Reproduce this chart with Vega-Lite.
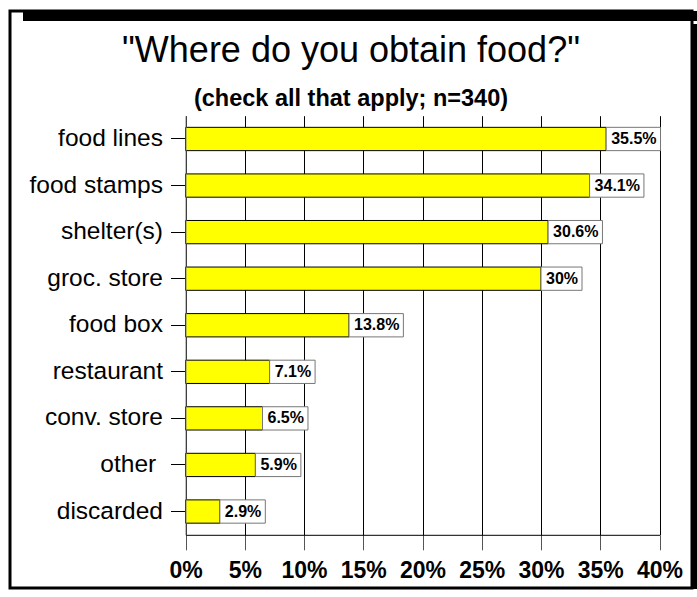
{
  "$schema": "https://vega.github.io/schema/vega-lite/v6.json",
  "padding": {"left": 8, "top": 9, "right": 0, "bottom": 0},
  "background": "white",
  "config": {"view": {"stroke": null}, "font": "Liberation Sans"},
  "datasets": {
    "food": [
      {"place": "food lines", "share": 0.355},
      {"place": "food stamps", "share": 0.341},
      {"place": "shelter(s)", "share": 0.306},
      {"place": "groc. store", "share": 0.30},
      {"place": "food box", "share": 0.138},
      {"place": "restaurant", "share": 0.071},
      {"place": "conv. store", "share": 0.065},
      {"place": "other \u200b", "share": 0.059},
      {"place": "discarded", "share": 0.029}
    ],
    "none": []
  },
  "spacing": 0,
  "bounds": "flush",
  "vconcat": [
    {
      "spacing": 0,
      "bounds": "flush",
      "hconcat": [
        {
          "width": 682,
          "height": 577,
          "view": {"stroke": "black", "strokeWidth": 3, "fill": "white"},
          "title": {
            "text": "\"Where do you obtain food?\"",
            "subtitle": "(check all that apply; n=340)",
            "anchor": "middle",
            "frame": "group",
            "offset": -100,
            "font": "Liberation Sans",
            "fontSize": 36,
            "fontWeight": "normal",
            "color": "black",
            "subtitleFont": "Liberation Sans",
            "subtitleFontSize": 23.5,
            "subtitleFontWeight": "bold",
            "subtitleColor": "black",
            "subtitlePadding": 17
          },
          "data": {"name": "food"},
          "resolve": {"axis": {"x": "independent"}},
          "encoding": {
            "y": {
              "field": "place",
              "type": "nominal",
              "sort": null,
              "scale": {"range": [104.7, 523.8], "paddingInner": 0.5, "paddingOuter": 0.25},
              "axis": {
                "orient": "left",
                "offset": -175.5,
                "title": null,
                "domainColor": "#808080",
                "domainWidth": 1,
                "ticks": true,
                "tickColor": "black",
                "tickSize": 15,
                "labelFont": "Liberation Sans",
                "labelFontSize": 24.5,
                "labelFontWeight": "normal",
                "labelColor": "black",
                "labelPadding": 8,
                "labelLimit": 400,
                "grid": false,
                "zindex": 1
              }
            }
          },
          "layer": [
            {
              "mark": {"type": "bar", "fill": "#FFFF00", "stroke": "black", "strokeWidth": 1},
              "encoding": {
                "x": {
                  "field": "share",
                  "type": "quantitative",
                  "scale": {"domain": [0, 0.4], "range": [175.5, 649.5], "nice": false, "zero": true},
                  "axis": {
                    "orient": "top",
                    "title": null,
                    "values": [0, 0.05, 0.1, 0.15, 0.2, 0.25, 0.3, 0.35, 0.4],
                    "grid": true,
                    "gridColor": "black",
                    "gridOpacity": 1,
                    "gridWidth": 1,
                    "domain": false,
                    "ticks": false,
                    "labels": false,
                    "zindex": 0
                  }
                }
              }
            },
            {
              "mark": {
                "type": "rect",
                "fill": "white",
                "stroke": "#777777",
                "strokeWidth": 1,
                "x2Offset": {"expr": "(length(format(datum.share,'.1~%'))-1)*8.9 - (indexof(format(datum.share,'.1~%'),'.')>=0 ? 4.45 : 0) + 23.2"}
              },
              "encoding": {
                "x": {
                  "field": "share",
                  "type": "quantitative",
                  "scale": {"domain": [0, 0.4], "range": [175.5, 649.5], "nice": false, "zero": true},
                  "axis": {
                    "orient": "bottom",
                    "offset": -53.2,
                    "title": null,
                    "values": [0, 0.05, 0.1, 0.15, 0.2, 0.25, 0.3, 0.35, 0.4],
                    "format": ".0%",
                    "grid": false,
                    "domainColor": "black",
                    "domainWidth": 1,
                    "tickColor": "#555555",
                    "tickSize": 15,
                    "labelFont": "Liberation Sans",
                    "labelFontSize": 23,
                    "labelFontWeight": "bold",
                    "labelColor": "black",
                    "labelPadding": 10,
                    "labelFlush": false,
                    "labelOverlap": false,
                    "zindex": 0
                  }
                },
                "x2": {"field": "share"}
              }
            },
            {
              "mark": {"type": "text", "align": "left", "baseline": "middle", "dx": 5, "fontSize": 16, "fontWeight": "bold", "color": "black", "font": "Liberation Sans"},
              "encoding": {
                "x": {"field": "share", "type": "quantitative", "axis": null},
                "text": {"field": "share", "format": ".1~%"}
              }
            }
          ]
        },
        {
          "spacing": 0,
          "bounds": "flush",
          "vconcat": [
            {"data": {"name": "none"}, "width": 6, "height": 13, "mark": {"type": "point", "opacity": 0}, "encoding": {}, "view": {"stroke": null, "fill": null}},
            {"data": {"name": "none"}, "width": 6, "height": 565, "mark": {"type": "point", "opacity": 0}, "encoding": {}, "view": {"stroke": null, "fill": "black"}}
          ]
        }
      ]
    },
    {
      "spacing": 0,
      "bounds": "flush",
      "hconcat": [
        {"data": {"name": "none"}, "width": 13, "height": 10, "mark": {"type": "point", "opacity": 0}, "encoding": {}, "view": {"stroke": null, "fill": null}},
        {"data": {"name": "none"}, "width": 684, "height": 10, "mark": {"type": "point", "opacity": 0}, "encoding": {}, "view": {"stroke": null, "fill": "black"}}
      ]
    }
  ]
}
